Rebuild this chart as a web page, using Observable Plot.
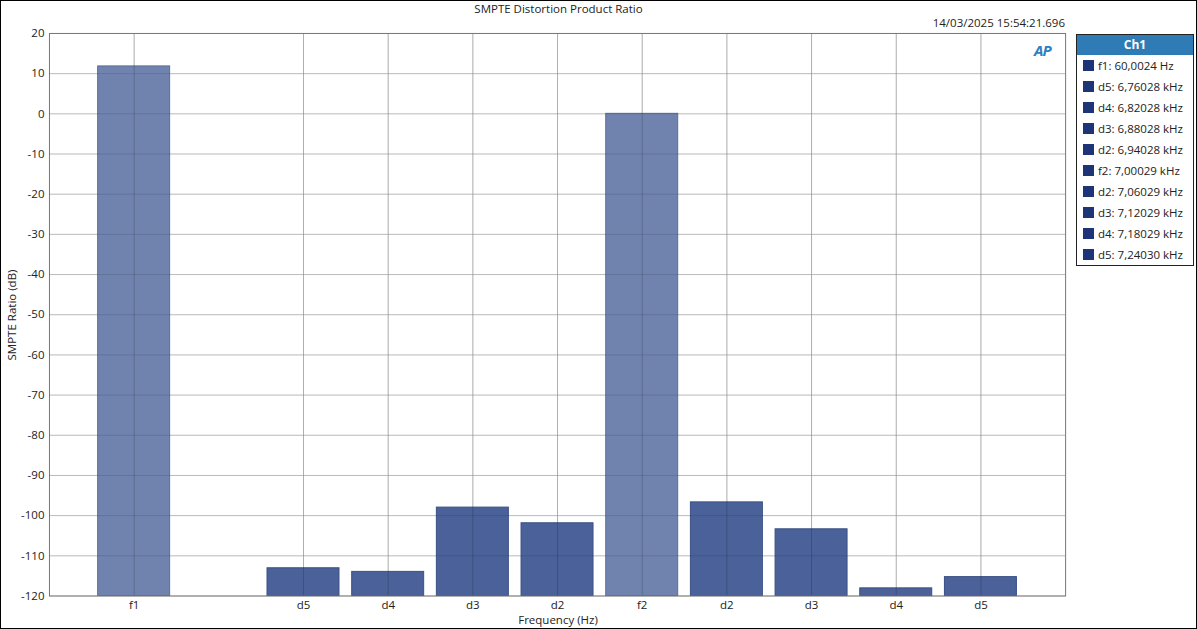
<!DOCTYPE html>
<html>
<head>
<meta charset="utf-8">
<script src="https://cdn.jsdelivr.net/npm/d3@7"></script>
<script src="https://cdn.jsdelivr.net/npm/@observablehq/plot@0.6"></script>
<style>
  html, body { margin: 0; padding: 0; background: #fff; }
  #wrap { position: relative; width: 1197px; height: 629px; box-sizing: border-box; border: 1px solid #000; overflow: hidden; font-family: "Open Sans", "Noto Sans", sans-serif; color: #222; }
  #chart { position: absolute; left: -1px; top: -1px; }
  .abs { position: absolute; white-space: nowrap; font-size: 11.5px; }
  #title { left: 0; width: 1115px; text-align: center; top: 0px; }
  #stamp { right: 131px; top: 14px; }
  #ylab { left: 10px; top: 314px; transform: translate(-50%, -50%) rotate(-90deg); }
  #xlab { left: 557px; top: 611px; transform: translateX(-50%); }
  #logo { left: 1033px; top: 39px; font: italic bold 15px "Open Sans", sans-serif; color: #2c7fc0; letter-spacing: -1px; }
  #legend { position: absolute; left: 1075px; top: 33px; width: 116px; border: 1px solid #222; background: #fff; }
  #legend .hd { background: #2f7bb6; color: #fff; font-weight: bold; text-align: center; font-size: 12px; height: 20px; line-height: 20px; }
  #legend .row { height: 21px; line-height: 21px; font-size: 11.5px; padding-left: 6px; display: flex; align-items: center; }
  #legend .sw { width: 11px; height: 11px; background: #1d3577; margin-right: 4px; display: inline-block; }
</style>
</head>
<body>
<div id="wrap">
  <div id="chart"></div>
  <div class="abs" id="title">SMPTE Distortion Product Ratio</div>
  <div class="abs" id="stamp">14/03/2025 15:54:21.696</div>
  <div class="abs" id="ylab">SMPTE Ratio (dB)</div>
  <div class="abs" id="xlab">Frequency (Hz)</div>
  <div class="abs" id="logo">AP</div>
  <div id="legend"><div class="hd">Ch1</div></div>
</div>
<script>
// Category slots along the frequency axis ("" = empty slot)
const categories = ["f1", "", "d5", "d4", "d3", "d2", "f2", "d2", "d3", "d4", "d5"];
const values = [11.8, null, -113.1, -114.0, -98.0, -101.9, 0.0, -96.7, -103.4, -118.1, -115.3];
const kinds = ["f", null, "d", "d", "d", "d", "f", "d", "d", "d", "d"];
const yTicks = [20, 10, 0, -10, -20, -30, -40, -50, -60, -70, -80, -90, -100, -110, -120];
const legendLabels = ["f1: 60,0024 Hz", "d5: 6,76028 kHz", "d4: 6,82028 kHz", "d3: 6,88028 kHz", "d2: 6,94028 kHz",
  "f2: 7,00029 kHz", "d2: 7,06029 kHz", "d3: 7,12029 kHz", "d4: 7,18029 kHz", "d5: 7,24030 kHz"];

const rows = categories.map((c, i) => ({label: c, pos: i + 1, value: values[i], kind: kinds[i]}))
  .filter(d => d.value !== null);
const halfWidth = 0.425;
const baseline = -120;

const plot = Plot.plot({
  width: 1197,
  height: 629,
  marginLeft: 49,
  marginRight: 131,
  marginTop: 33,
  marginBottom: 33,
  style: {fontFamily: "Open Sans, Noto Sans, sans-serif", fontSize: "11.5px", color: "#222", background: "transparent"},
  x: {domain: [0, 12], axis: null},
  y: {domain: [-120, 20], axis: null},
  marks: [
    Plot.ruleY(yTicks, {stroke: "#d4d4d4"}),
    Plot.ruleX(rows, {x: "pos", stroke: "#d4d4d4"}),
    Plot.rectY(rows, {
      x1: d => d.pos - halfWidth, x2: d => d.pos + halfWidth,
      y1: baseline, y2: "value",
      fill: d => d.kind === "f" ? "#7083ae" : "#4a6299",
      stroke: d => d.kind === "f" ? "#5a6d9b" : "#3a5085", strokeWidth: 1
    }),
    Plot.ruleX(rows, {x: "pos", stroke: "#000", strokeOpacity: 0.18}),
    Plot.ruleY(yTicks.filter(t => t > -120 && t < 20), {stroke: "#000", strokeOpacity: 0.12}),
    Plot.frame({stroke: "#777"}),
    Plot.axisY(yTicks, {tickSize: 0, tickPadding: 5, label: null, fill: "#222", tickFormat: t => String(t)}),
    Plot.axisX(rows.map(d => d.pos), {tickSize: 0, tickPadding: 5, label: null, tickFormat: p => categories[p - 1], fill: "#222"})
  ]
});
document.getElementById("chart").appendChild(plot);

const legend = document.getElementById("legend");
legendLabels.forEach(t => {
  const r = document.createElement("div");
  r.className = "row";
  r.innerHTML = '<span class="sw"></span>' + t;
  legend.appendChild(r);
});
</script>
</body>
</html>
